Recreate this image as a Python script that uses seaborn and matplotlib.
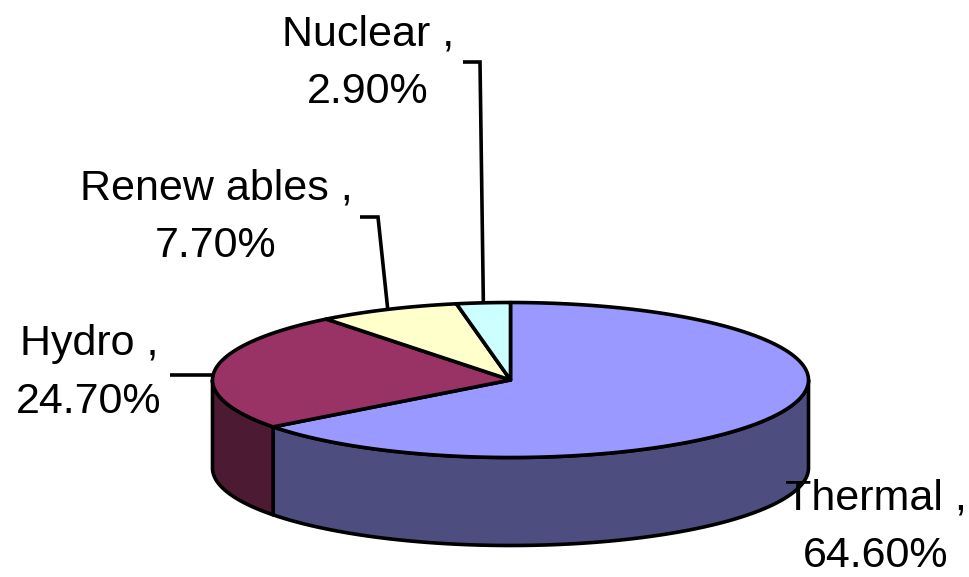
import numpy as np
import matplotlib
matplotlib.use("Agg")
import matplotlib.pyplot as plt
import seaborn as sns

# Electricity generation mix (share of total)
sources = ["Thermal", "Hydro", "Renew ables", "Nuclear"]
shares = [64.6, 24.7, 7.7, 2.9]
top_colors = ["#9999FF", "#993366", "#FFFFCC", "#CCFFFF"]
side_colors = ["#4D4D80", "#4D1A33", "#80806A", "#6A8080"]

sns.set_style("white")
plt.rcParams["font.family"] = ["Liberation Sans", "DejaVu Sans"]

W, H = 969, 577
fig = plt.figure(figsize=(W / 100, H / 100), dpi=100)
ax = fig.add_axes([0, 0, 1, 1])
ax.set_xlim(0, W)
ax.set_ylim(H, 0)
ax.axis("off")

# projected disc geometry (pixel space)
cx, cy = 510.5, 380.0
rx, ry = 298.0, 77.5
depth = 88.0
lw = 2.6


def pt(theta_deg, dy=0.0):
    """Point on the tilted rim; angle measured clockwise from 12 o'clock."""
    t = np.radians(theta_deg)
    return cx + rx * np.sin(t), cy - ry * np.cos(t) + dy


fracs = np.array(shares) / sum(shares)
edges = np.concatenate([[0.0], np.cumsum(fracs) * 360.0])

# side walls: only the front half (90..270 deg) is visible
for i in range(len(shares)):
    a0, a1 = max(edges[i], 90.0), min(edges[i + 1], 270.0)
    if a1 <= a0:
        continue
    th = np.linspace(a0, a1, 120)
    xs, ys = pt(th)
    poly_x = np.concatenate([xs, xs[::-1]])
    poly_y = np.concatenate([ys, (ys + depth)[::-1]])
    ax.fill(poly_x, poly_y, facecolor=side_colors[i], edgecolor="black",
            linewidth=lw, joinstyle="round", zorder=2)

# top faces
for i in range(len(shares)):
    th = np.linspace(edges[i], edges[i + 1], 240)
    xs, ys = pt(th)
    poly_x = np.concatenate([[cx], xs, [cx]])
    poly_y = np.concatenate([[cy], ys, [cy]])
    ax.fill(poly_x, poly_y, facecolor=top_colors[i], edgecolor="black",
            linewidth=lw, joinstyle="round", zorder=3)

# data labels
label_pos = [(876, 527), (89, 373), (216, 217), (368, 63)]
fs = 31
for i, (name, val) in enumerate(zip(sources, shares)):
    lx, ly = label_pos[i]
    ax.text(lx, ly, f"{name} ,\n{val:.2f}%", ha="center", va="center",
            fontsize=fs, linespacing=1.55, color="black", zorder=5)

# leader lines from the label to the middle of each slice's rim
leaders = {
    1: [(170, 375), (212, 375)],
    2: [(360, 217), (378, 217)],
    3: [(463, 62), (480, 62)],
}
for i, seg in leaders.items():
    mid = 0.5 * (edges[i] + edges[i + 1])
    ex, ey = pt(mid)
    if i == 1:
        xs, ys = [seg[0][0], ex], [seg[0][1], seg[0][1]]
    else:
        xs = [seg[0][0], seg[1][0], ex]
        ys = [seg[0][1], seg[1][1], ey]
    ax.plot(xs, ys, color="black", linewidth=lw, zorder=4,
            solid_joinstyle="miter", solid_capstyle="butt")

fig.savefig("out.png", dpi=100, facecolor="white")
